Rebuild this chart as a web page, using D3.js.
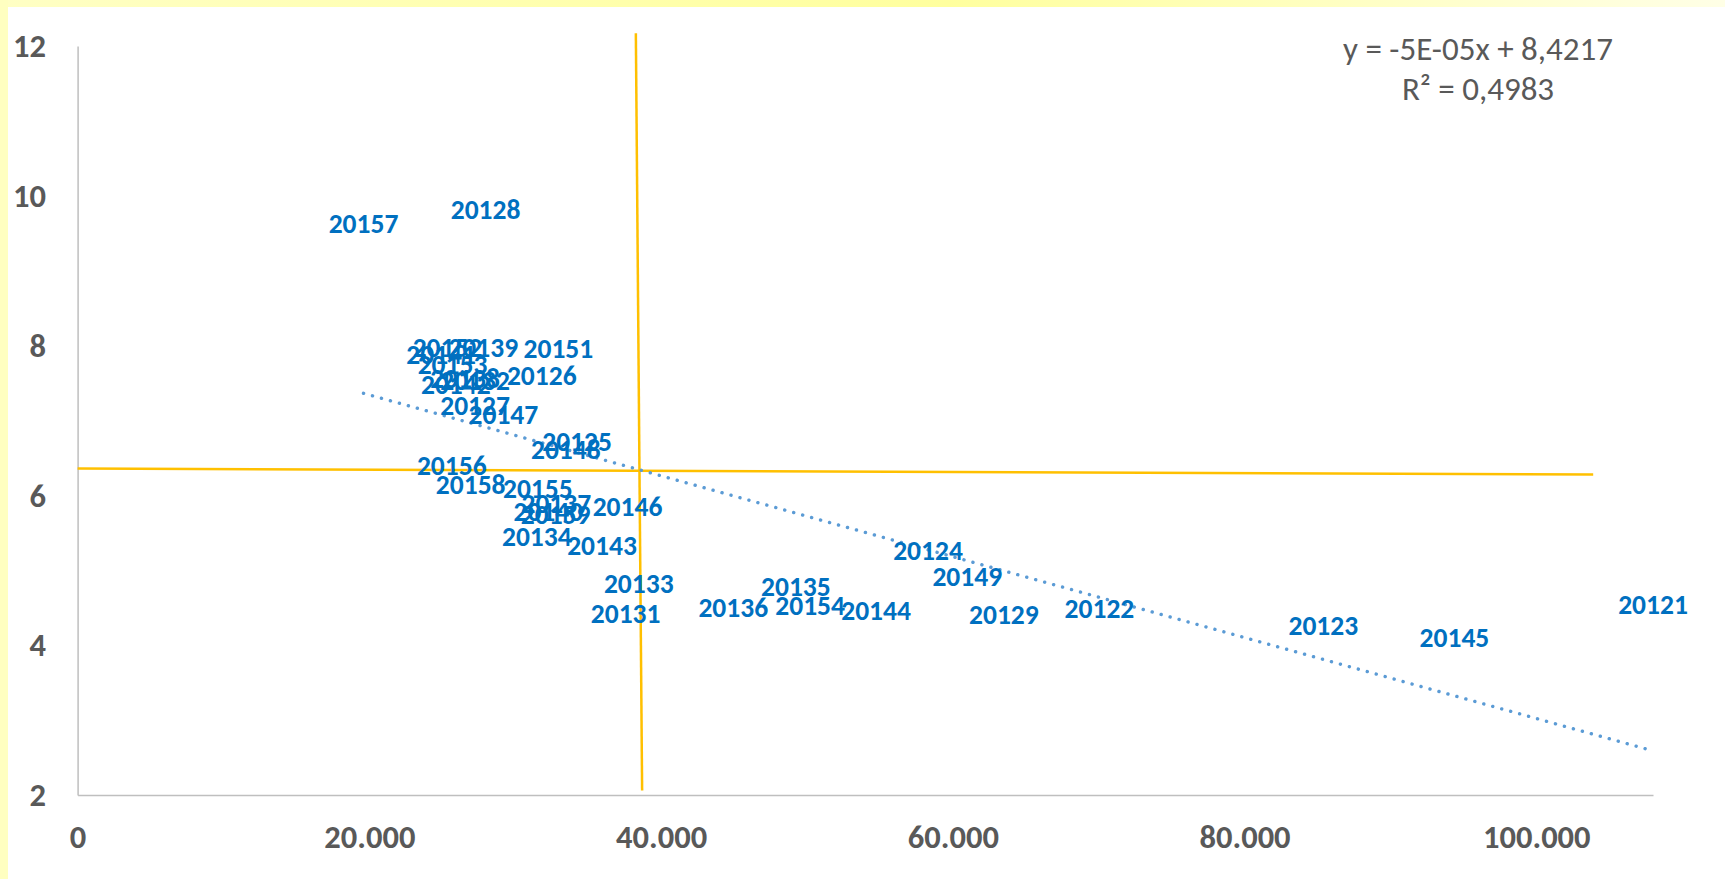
<!DOCTYPE html>
<html>
<head>
<meta charset="utf-8">
<script src="https://cdn.jsdelivr.net/npm/d3@7"></script>
<style>
  html, body { margin: 0; padding: 0; background: #ffffff; }
  svg { display: block; }
</style>
</head>
<body>
<svg id="chart" width="1725" height="879"></svg>
<script>
// ---------- data ----------
const labels = [
  "20121","20122","20123","20124","20125","20126","20127","20128","20129",
  "20131","20132","20133","20134","20135","20136","20137","20138","20139",
  "20140","20141","20142","20143","20144","20145","20146","20147","20148","20149",
  "20151","20152","20153","20154","20155","20156","20157","20158","20159"
];
const xValues = [
  108000, 70050, 85400, 58300, 34240, 31820, 27250, 27970, 63500,
  37570, 27250, 38470, 31480, 49240, 44950, 32820, 26560, 27810,
  32270, 24920, 25930, 35950, 54740, 94390, 37700, 29190, 33470, 60990,
  32960, 25360, 25700, 50220, 31550, 25650, 19600, 26950, 32770
];
const yValues = [
  4.54, 4.49, 4.26, 5.26, 6.72, 7.60, 7.19, 9.81, 4.41,
  4.42, 7.53, 4.82, 5.44, 4.78, 4.50, 5.89, 7.56, 7.97,
  5.78, 7.88, 7.47, 5.33, 4.46, 4.10, 5.84, 7.08, 6.61, 4.91,
  7.95, 7.97, 7.74, 4.52, 6.08, 6.39, 9.62, 6.14, 5.74
];
const xTicks = [0, 20000, 40000, 60000, 80000, 100000];
const yTicks = [2, 4, 6, 8, 10, 12];
const xDomain = [0, 108000];
const yDomain = [2, 12];
// trendline coefficients
const trendSlope = -5.4e-5;
const trendIntercept = 8.4217;
const equationLines = ["y = -5E-05x + 8,4217", "R\u00B2 = 0,4983"];
// reference (quadrant) lines, two points each
const vLineX = [38270, 38700];
const vLineY = [12.17, 2.06];
const hLineX = [0, 103900];
const hLineY = [6.36, 6.28];

// ---------- layout ----------
const W = 1725, H = 879;
const plot = { left: 77.6, top: 46, right: 1653, bottom: 795 };

const svg = d3.select("#chart");

// background yellow frame
const defs = svg.append("defs");
const grad = defs.append("linearGradient").attr("id", "bg").attr("x1", "0").attr("x2", "1").attr("y1", "0").attr("y2", "0");
grad.append("stop").attr("offset", "0%").attr("stop-color", "#ffffc4");
grad.append("stop").attr("offset", "55%").attr("stop-color", "#ffff9e");
grad.append("stop").attr("offset", "100%").attr("stop-color", "#ffffe6");
svg.append("rect").attr("x", 0).attr("y", 0).attr("width", W).attr("height", H).attr("fill", "url(#bg)");
svg.append("rect").attr("x", 0).attr("y", 0).attr("width", 8).attr("height", H).attr("fill", "#ffffc0");
svg.append("rect").attr("x", 8).attr("y", 7).attr("width", W - 8).attr("height", H - 7).attr("fill", "#ffffff");

const x = d3.scaleLinear().domain(xDomain).range([plot.left, plot.right]);
const y = d3.scaleLinear().domain(yDomain).range([plot.bottom, plot.top]);

const loc = d3.formatLocale({ decimal: ",", thousands: ".", grouping: [3], currency: ["", ""] });
const fmtX = loc.format(",.0f");

const axisFont = "Carlito, Calibri, Lato, sans-serif";

// axes
const gx = svg.append("g").attr("transform", `translate(0,${plot.bottom})`)
  .call(d3.axisBottom(x).tickValues(xTicks).tickFormat(fmtX).tickSize(0).tickPadding(0));
gx.select(".domain").attr("stroke", "#bfbfbf").attr("stroke-width", 1.5);
gx.selectAll("text")
  .attr("y", 53).attr("dy", 0)
  .attr("font-family", axisFont).attr("font-weight", "bold").attr("font-size", 32.5)
  .attr("fill", "#595959");

const gy = svg.append("g").attr("transform", `translate(${plot.left},0)`)
  .call(d3.axisLeft(y).tickValues(yTicks).tickSize(0).tickPadding(0));
gy.select(".domain").attr("stroke", "#bfbfbf").attr("stroke-width", 1.5);
gy.selectAll("text")
  .attr("x", -31.6).attr("dy", "0.33em")
  .attr("font-family", axisFont).attr("font-weight", "bold").attr("font-size", 32.5)
  .attr("fill", "#595959");

// quadrant lines
const line = d3.line().x(d => x(d[0])).y(d => y(d[1]));
svg.append("path").datum(d3.zip(vLineX, vLineY)).attr("d", line)
  .attr("stroke", "#ffc000").attr("stroke-width", 2.5).attr("fill", "none");
svg.append("path").datum(d3.zip(hLineX, hLineY)).attr("d", line)
  .attr("stroke", "#ffc000").attr("stroke-width", 2.5).attr("fill", "none");

// trendline
const xMin = d3.min(xValues), xMax = d3.max(xValues);
const trendPts = [xMin, xMax].map(v => [v, trendSlope * v + trendIntercept]);
svg.append("path").datum(trendPts).attr("d", line)
  .attr("stroke", "#5b9bd5").attr("stroke-width", 3.4).attr("fill", "none")
  .attr("stroke-linecap", "round").attr("stroke-dasharray", "0.1 9.2");

// data labels (markers hidden, labels centred on points)
const data = labels.map((l, i) => ({ label: l, x: xValues[i], y: yValues[i] }));
svg.append("g").selectAll("text").data(data).join("text")
  .attr("x", d => x(d.x)).attr("y", d => y(d.y)).attr("dy", "0.33em")
  .attr("text-anchor", "middle")
  .attr("font-family", axisFont).attr("font-weight", "bold").attr("font-size", 27.5)
  .attr("fill", "#0070c0")
  .text(d => d.label);

// trendline equation
svg.append("g").selectAll("text").data(equationLines).join("text")
  .attr("x", 1478).attr("y", (d, i) => 60 + i * 40)
  .attr("text-anchor", "middle")
  .attr("font-family", axisFont).attr("font-size", 33)
  .attr("fill", "#595959")
  .text(d => d);
</script>
</body>
</html>
